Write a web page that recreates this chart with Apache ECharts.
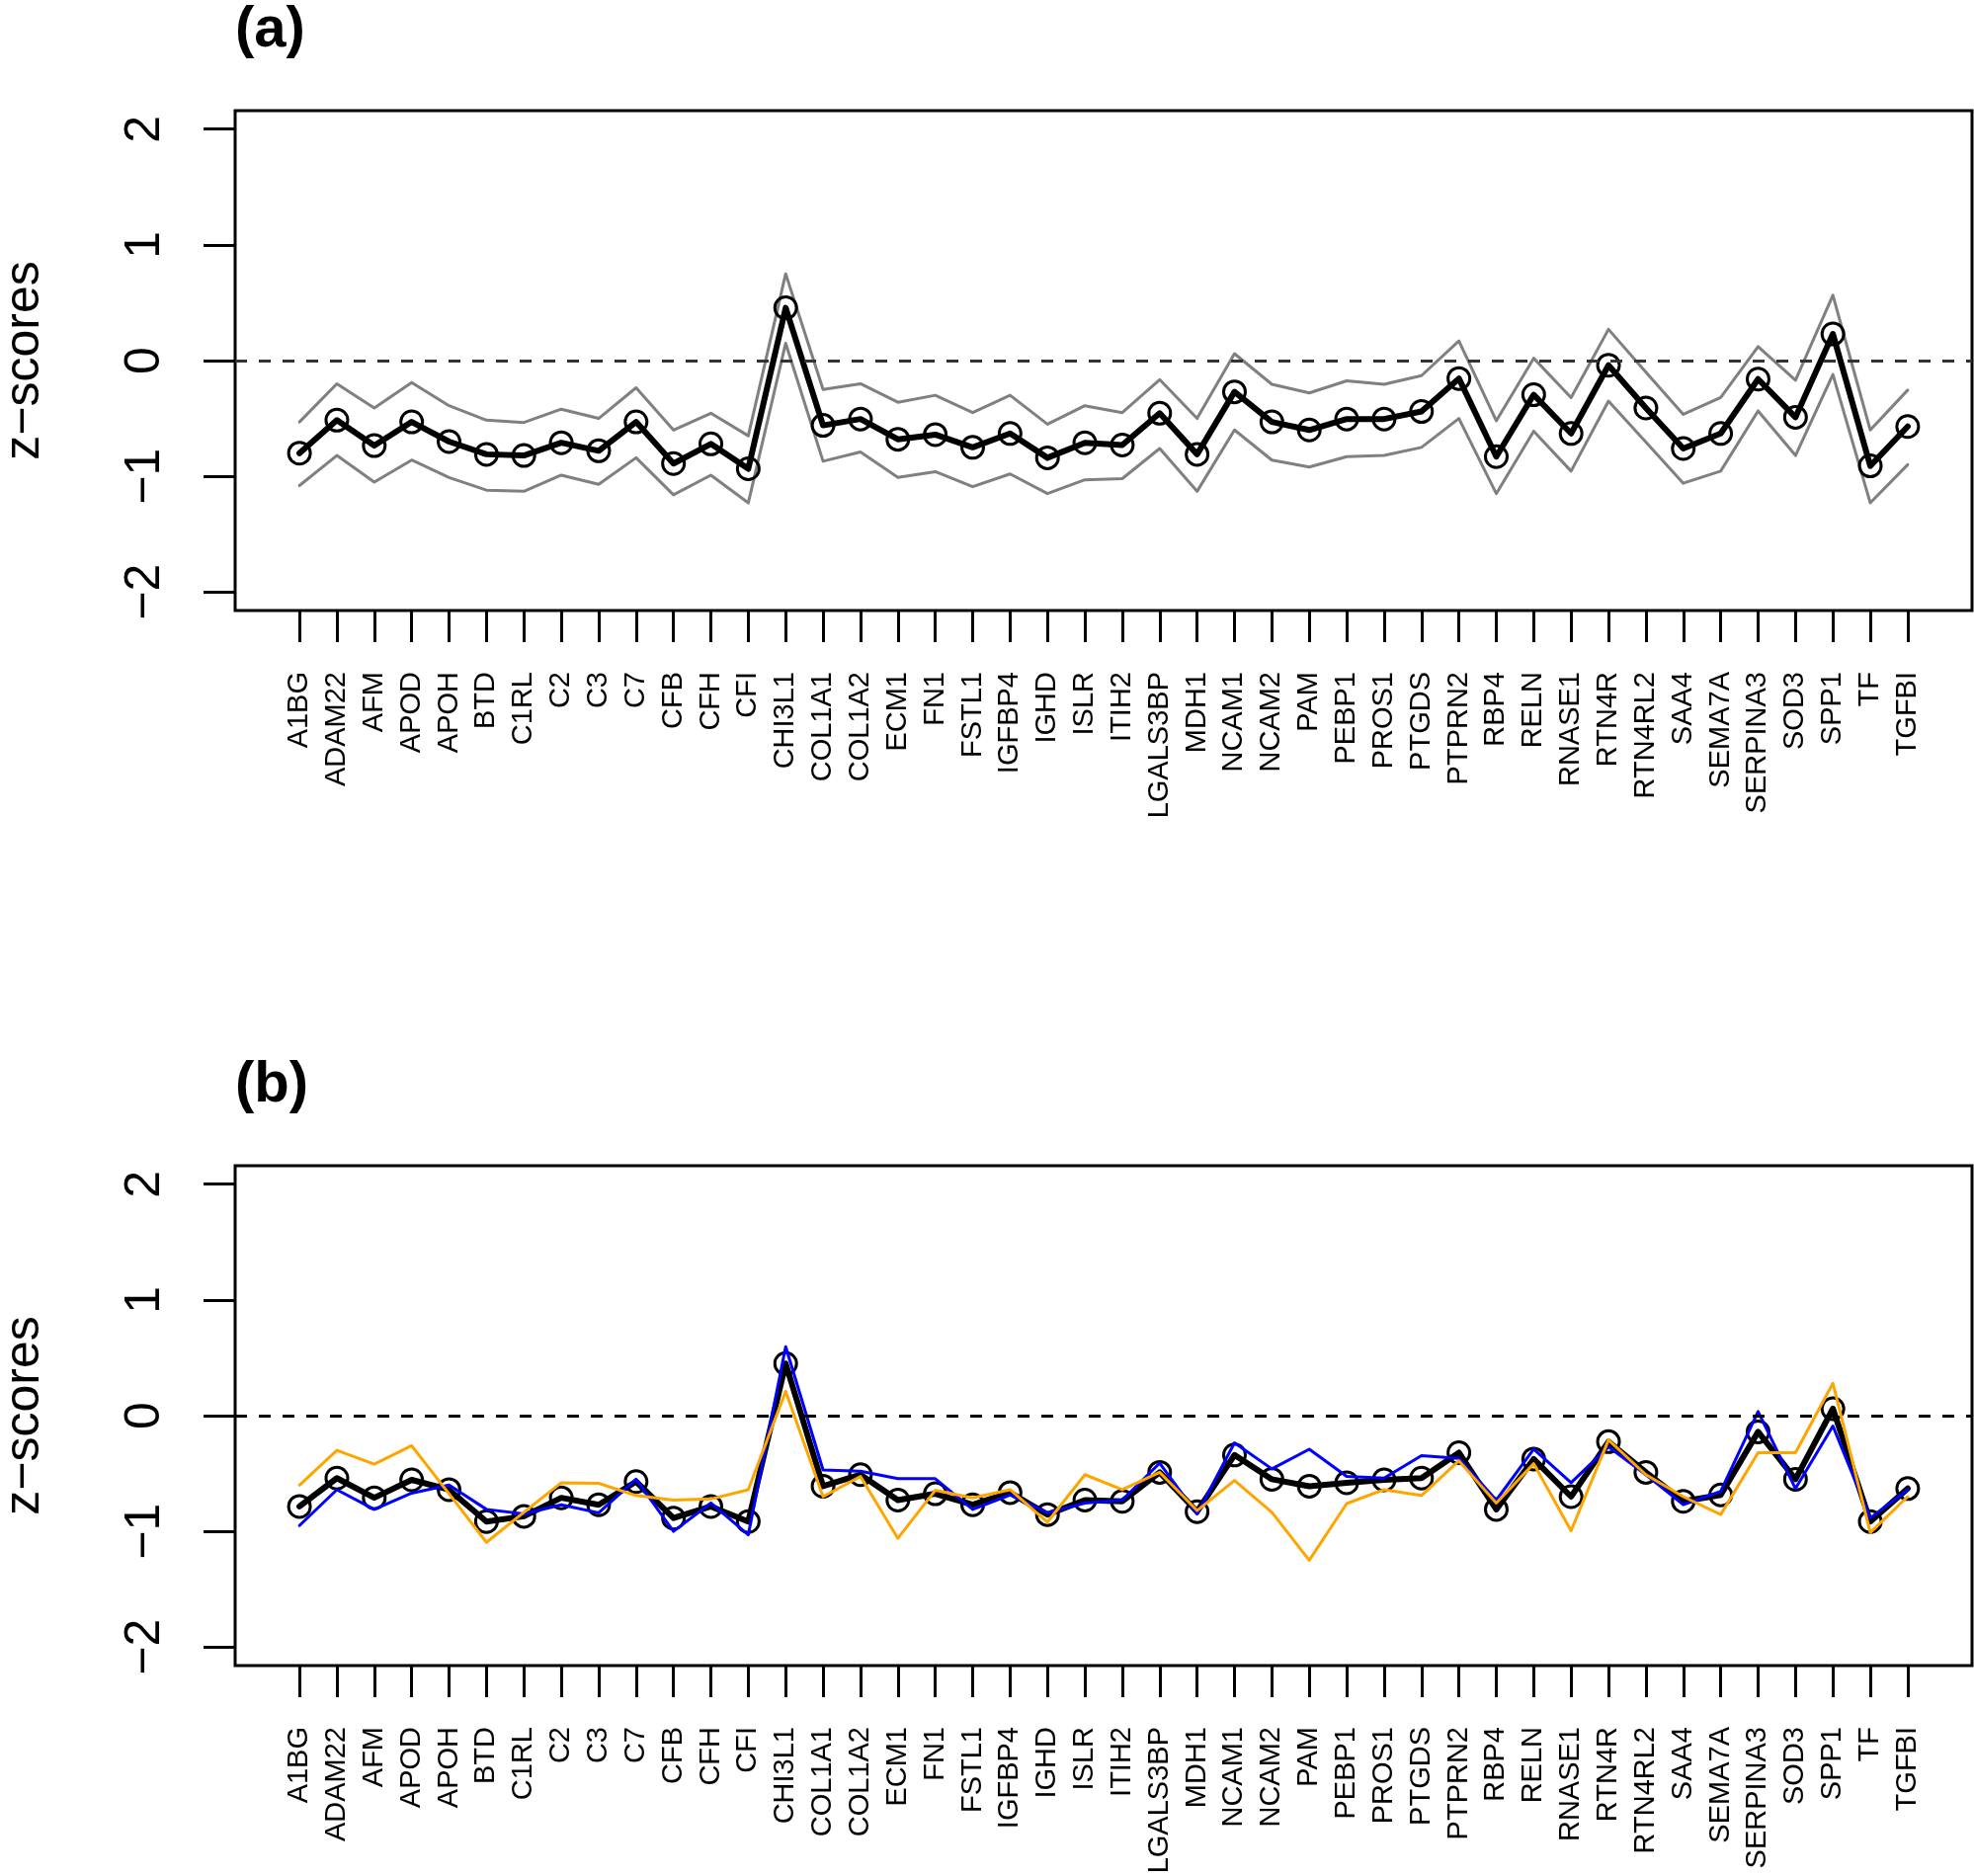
<!DOCTYPE html>
<html>
<head>
<meta charset="utf-8">
<script src="https://cdn.jsdelivr.net/npm/echarts@6/dist/echarts.min.js"></script>
<style>
html,body{margin:0;padding:0;background:#ffffff;}
#c{width:1998px;height:1899px;}
</style>
</head>
<body>
<div id="c"></div>
<script>
const categories = ['A1BG','ADAM22','AFM','APOD','APOH','BTD','C1RL','C2','C3','C7','CFB','CFH','CFI','CHI3L1','COL1A1','COL1A2','ECM1','FN1','FSTL1','IGFBP4','IGHD','ISLR','ITIH2','LGALS3BP','MDH1','NCAM1','NCAM2','PAM','PEBP1','PROS1','PTGDS','PTPRN2','RBP4','RELN','RNASE1','RTN4R','RTN4RL2','SAA4','SEMA7A','SERPINA3','SOD3','SPP1','TF','TGFBI'];

// Panel (a): mean z-score and the grey upper / lower band
const aMean = [-0.80,-0.515,-0.735,-0.53,-0.70,-0.81,-0.82,-0.71,-0.78,-0.53,-0.89,-0.72,-0.935,0.456,-0.56,-0.505,-0.68,-0.64,-0.75,-0.63,-0.84,-0.71,-0.73,-0.455,-0.81,-0.27,-0.53,-0.60,-0.505,-0.505,-0.44,-0.155,-0.83,-0.295,-0.63,-0.04,-0.41,-0.76,-0.63,-0.16,-0.49,0.23,-0.91,-0.57];
const aUpper = [-0.53,-0.20,-0.41,-0.19,-0.39,-0.515,-0.535,-0.42,-0.50,-0.235,-0.60,-0.455,-0.65,0.75,-0.25,-0.20,-0.36,-0.30,-0.45,-0.30,-0.55,-0.39,-0.45,-0.165,-0.50,0.06,-0.205,-0.28,-0.175,-0.205,-0.13,0.17,-0.52,0.02,-0.32,0.27,-0.10,-0.465,-0.32,0.12,-0.17,0.565,-0.60,-0.255];
const aLower = [-1.08,-0.82,-1.05,-0.86,-1.01,-1.12,-1.13,-0.99,-1.07,-0.84,-1.16,-0.99,-1.23,0.15,-0.87,-0.79,-1.01,-0.96,-1.09,-0.98,-1.15,-1.03,-1.02,-0.76,-1.13,-0.60,-0.86,-0.92,-0.83,-0.82,-0.75,-0.50,-1.15,-0.61,-0.955,-0.35,-0.705,-1.06,-0.955,-0.435,-0.82,-0.12,-1.23,-0.90];

// Panel (b): mean z-score, blue and orange subgroups
const bMean = [-0.785,-0.54,-0.71,-0.555,-0.64,-0.915,-0.87,-0.71,-0.77,-0.57,-0.885,-0.785,-0.915,0.45,-0.61,-0.51,-0.73,-0.675,-0.77,-0.665,-0.855,-0.73,-0.74,-0.49,-0.83,-0.34,-0.55,-0.61,-0.58,-0.555,-0.54,-0.32,-0.81,-0.375,-0.70,-0.225,-0.49,-0.74,-0.685,-0.14,-0.55,0.06,-0.915,-0.63];
const bBlue = [-0.95,-0.64,-0.81,-0.67,-0.60,-0.81,-0.85,-0.77,-0.84,-0.55,-1.00,-0.755,-1.03,0.595,-0.47,-0.48,-0.545,-0.545,-0.81,-0.685,-0.84,-0.755,-0.73,-0.41,-0.85,-0.235,-0.46,-0.29,-0.525,-0.54,-0.345,-0.37,-0.73,-0.29,-0.58,-0.27,-0.51,-0.77,-0.655,0.035,-0.63,-0.09,-0.885,-0.64];
const bOrange = [-0.60,-0.30,-0.42,-0.26,-0.675,-1.095,-0.835,-0.58,-0.585,-0.69,-0.73,-0.72,-0.64,0.21,-0.70,-0.525,-1.06,-0.645,-0.71,-0.64,-0.92,-0.51,-0.64,-0.49,-0.82,-0.56,-0.835,-1.25,-0.76,-0.64,-0.69,-0.39,-0.755,-0.415,-0.995,-0.21,-0.51,-0.70,-0.855,-0.32,-0.32,0.28,-1.01,-0.70];

const yTicks = [-2,-1,0,1,2];
const yTitle = 'z\u2212scores';
const panelTitles = ['(a)','(b)'];

const FONT = '"Liberation Sans", Arial, Helvetica, sans-serif';
const xIdx = categories.map((c, i) => i + 1);
const pts = arr => arr.map((v, i) => [i + 1, v]);

function makeGrid(top) {
  return {left: 238, top: top, width: 1758, height: 506, show: true,
          outerBoundsMode: 'none', containLabel: false,
          borderColor: '#000', borderWidth: 3, backgroundColor: 'transparent'};
}
function makeX(gi) {
  return {
    type: 'value', gridIndex: gi, position: 'bottom', min: -0.72, max: 45.72,
    splitLine: {show: false}, axisLine: {show: false, onZero: false},
    axisTick: {show: true, customValues: xIdx, length: 32, lineStyle: {color: '#000', width: 3}},
    axisLabel: {show: true, customValues: xIdx, rotate: 90, margin: 62, fontSize: 29,
                fontFamily: FONT, color: '#000', formatter: v => categories[Math.round(v) - 1] || ''}
  };
}
function makeY(gi) {
  return {
    type: 'value', gridIndex: gi, position: 'left', min: -2.16, max: 2.16,
    name: yTitle, nameLocation: 'middle', nameGap: 188,
    nameTextStyle: {fontSize: 50, fontFamily: FONT, color: '#000'},
    splitLine: {show: false}, axisLine: {show: false, onZero: false},
    axisTick: {show: true, customValues: yTicks, length: 32, lineStyle: {color: '#000', width: 3}},
    axisLabel: {show: true, customValues: yTicks, rotate: 90, margin: 66, fontSize: 50,
                fontFamily: FONT, color: '#000', formatter: v => String(v).replace('-', '\u2212')}
  };
}
function thin(name, arr, gi, color, width, z) {
  return {name: name, type: 'line', xAxisIndex: gi, yAxisIndex: gi, data: pts(arr),
          symbol: 'none', silent: true, z: z,
          lineStyle: {color: color, width: width, join: 'round', cap: 'round'}};
}
function meanLine(name, arr, gi, zeroColor) {
  return {name: name, type: 'line', xAxisIndex: gi, yAxisIndex: gi, data: pts(arr),
          symbol: 'circle', symbolSize: 22, showSymbol: true, silent: true, z: 3,
          itemStyle: {color: 'rgba(0,0,0,0)', borderColor: '#000', borderWidth: 3},
          lineStyle: {color: '#000', width: 6, join: 'round', cap: 'round'},
          markLine: {silent: true, symbol: ['none', 'none'], label: {show: false},
                     lineStyle: {type: [12, 12], color: zeroColor, width: 3},
                     data: [{yAxis: 0}]}};
}

const chart = echarts.init(document.getElementById('c'), null, {renderer: 'canvas'});
chart.setOption({
  backgroundColor: '#ffffff',
  animation: false,
  title: [
    {text: panelTitles[0], left: 238, top: 2, padding: 0,
     textStyle: {fontSize: 58, fontWeight: 'bold', fontFamily: FONT, color: '#000'}},
    {text: panelTitles[1], left: 238, top: 1070, padding: 0,
     textStyle: {fontSize: 58, fontWeight: 'bold', fontFamily: FONT, color: '#000'}}
  ],
  grid: [makeGrid(112), makeGrid(1180)],
  xAxis: [makeX(0), makeX(1)],
  yAxis: [makeY(0), makeY(1)],
  series: [
    thin('upper', aUpper, 0, '#808080', 3, 2),
    thin('lower', aLower, 0, '#808080', 3, 2),
    meanLine('mean (a)', aMean, 0, '#333333'),
    meanLine('mean (b)', bMean, 1, '#000000'),
    thin('blue', bBlue, 1, '#0000ff', 3, 4),
    thin('orange', bOrange, 1, '#ffa500', 3, 5)
  ]
});
</script>
</body>
</html>
